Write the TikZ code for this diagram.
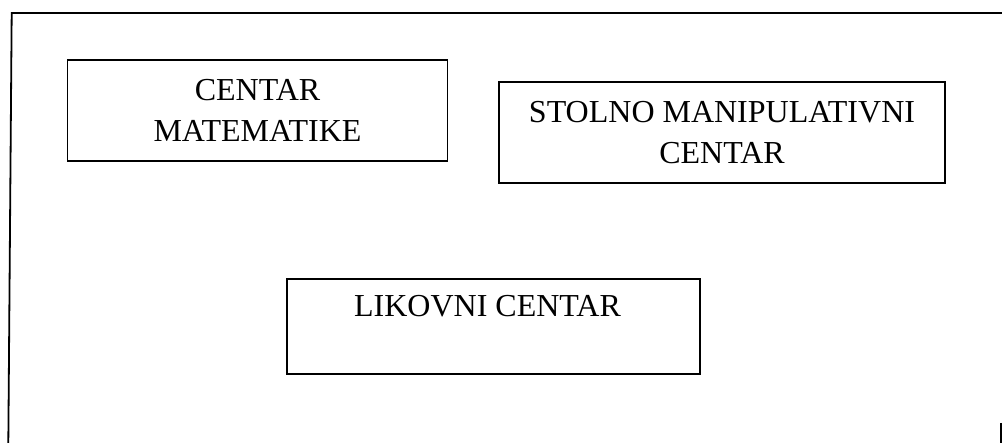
\documentclass[tikz,border=0pt]{standalone}
\usepackage{fontspec}
\setmainfont{Liberation Serif}
\begin{document}
\begin{tikzpicture}[x=1pt,y=-1pt,
  centerbox/.style={draw=black, line width=1.6pt, inner sep=0pt, align=center,
    font=\fontsize{32}{41}\selectfont, text=black},
  frameline/.style={draw=black, line width=1.8pt}]
\useasboundingbox (0,0) rectangle (1002,443);
\fill[white] (0,0) rectangle (1002,443);
% outer frame (partly outside the picture)
\coordinate (fbl) at (8.3,444);
\coordinate (ftl) at (11.7,13);
\coordinate (ftr) at (1003,13);
\coordinate (frb) at (1001,444);
\coordinate (frt) at (1001,423);
\draw[frameline] (fbl) -- (ftl) -- (ftr);
\draw[frameline] (frt) -- (frb);
% centres
\node[centerbox, minimum width=380pt, minimum height=101pt] (mat) at (257.5,110.5) {CENTAR\\MATEMATIKE};
\node[centerbox, minimum width=446pt, minimum height=101pt] (stol) at (722,132.5) {STOLNO MANIPULATIVNI\\CENTAR};
\node[centerbox, minimum width=413pt, minimum height=95pt] (lik) at (493.5,326.5) {LIKOVNI CENTAR\hspace*{12pt}\\~};
\end{tikzpicture}
\end{document}
